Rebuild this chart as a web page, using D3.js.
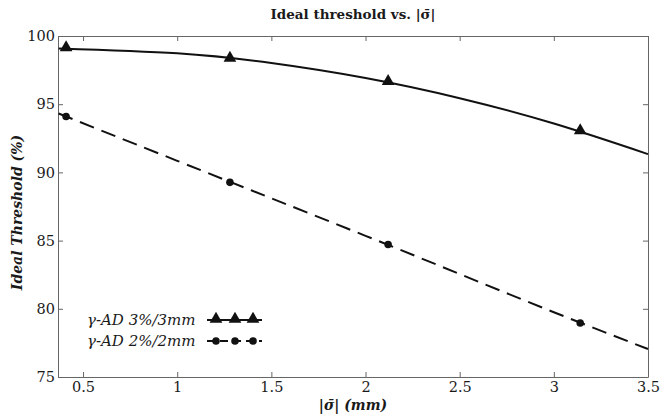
<!DOCTYPE html>
<html>
<head>
<meta charset="utf-8">
<script src="https://cdn.jsdelivr.net/npm/d3@7"></script>
<style>
  body { margin: 0; background: #fff; }
  svg text { fill: #1a1a1a; }
  .tick-label { font-family: "DejaVu Serif", serif; font-size: 14.5px; }
  .ttl { font-family: "DejaVu Serif", serif; font-weight: bold; font-size: 13.5px; }
  .axis-title { font-family: "DejaVu Serif", serif; font-weight: bold; font-style: italic; font-size: 14px; }
  .legend-label { font-family: "DejaVu Serif", serif; font-style: italic; font-size: 15px; }
</style>
</head>
<body>
<div id="chart"></div>
<script>
// measured points
const sigmaPoints = [0.41, 1.28, 2.12, 3.14];
const threshold3 = [99.08, 98.3, 96.6, 93.0];
const threshold2 = [94.1, 89.27, 84.72, 78.96];

// fitted curves
const fitX = [0.37, 1, 1.5, 2, 2.5, 3, 3.5];
const fit3 = [99.09, 98.73, 98.02, 96.92, 95.44, 93.58, 91.34];
const fit2 = [94.32, 90.85, 88.1, 85.35, 82.55, 79.75, 77.05];

const xTicks = [0.5, 1, 1.5, 2, 2.5, 3, 3.5];
const yTicks = [75, 80, 85, 90, 95, 100];
const legendNames = ["\u03B3-AD 3%/3mm", "\u03B3-AD 2%/2mm"];

function renderChart() {
    const width = 660;
    const height = 414;
    const margin = { top: 36, right: 12, bottom: 37, left: 58 };
    const tickLen = 5;

    const svg = d3.select("#chart")
        .html("")
        .append("svg")
        .attr("width", width)
        .attr("height", height);

    const x = d3.scaleLinear()
        .domain([0.367, 3.5])
        .range([margin.left, width - margin.right]);

    const y = d3.scaleLinear()
        .domain([75, 100])
        .range([height - margin.bottom, margin.top]);

    const axisColor = "#666";

    // box + inward ticks on all four sides
    const styleAxis = g => {
        g.select(".domain").attr("stroke", axisColor);
        g.selectAll(".tick line").attr("stroke", axisColor);
    };

    svg.append("g")
        .attr("transform", `translate(0,${y(75)})`)
        .call(d3.axisBottom(x).tickValues(xTicks).tickSizeInner(-tickLen).tickSizeOuter(0).tickPadding(5).tickFormat(d3.format("")))
        .call(styleAxis)
        .call(g => g.selectAll("text").attr("class", "tick-label").attr("fill", "#1a1a1a"));

    svg.append("g")
        .attr("transform", `translate(0,${y(100)})`)
        .call(d3.axisTop(x).tickValues(xTicks).tickSizeInner(-tickLen).tickSizeOuter(0).tickFormat(""))
        .call(styleAxis);

    svg.append("g")
        .attr("transform", `translate(${x.range()[0]},0)`)
        .call(d3.axisLeft(y).tickValues(yTicks).tickSizeInner(-tickLen).tickSizeOuter(0).tickPadding(3))
        .call(styleAxis)
        .call(g => g.selectAll("text").attr("class", "tick-label").attr("fill", "#1a1a1a"));

    svg.append("g")
        .attr("transform", `translate(${x.range()[1]},0)`)
        .call(d3.axisRight(y).tickValues(yTicks).tickSizeInner(-tickLen).tickSizeOuter(0).tickFormat(""))
        .call(styleAxis);

    const line = d3.line()
        .x(d => x(d[0]))
        .y(d => y(d[1]))
        .curve(d3.curveNatural);

    svg.append("path")
        .datum(fitX.map((v, i) => [v, fit3[i]]))
        .attr("fill", "none")
        .attr("stroke", "#111")
        .attr("stroke-width", 2)
        .attr("d", line);

    svg.append("path")
        .datum(fitX.map((v, i) => [v, fit2[i]]))
        .attr("fill", "none")
        .attr("stroke", "#111")
        .attr("stroke-width", 2)
        .attr("stroke-dasharray", "15,8")
        .attr("d", line);

    const tri = d3.symbol().type(d3.symbolTriangle).size(70);
    const dot = d3.symbol().type(d3.symbolCircle).size(45);

    svg.selectAll(".tri")
        .data(sigmaPoints.map((v, i) => [v, threshold3[i]]))
        .enter()
        .append("path")
        .attr("class", "tri")
        .attr("transform", d => `translate(${x(d[0])},${y(d[1]) - 1})`)
        .attr("d", tri)
        .attr("fill", "#111");

    svg.selectAll(".dot")
        .data(sigmaPoints.map((v, i) => [v, threshold2[i]]))
        .enter()
        .append("path")
        .attr("class", "dot")
        .attr("transform", d => `translate(${x(d[0])},${y(d[1])})`)
        .attr("d", dot)
        .attr("fill", "#111");

    // title and axis titles
    svg.append("text")
        .attr("class", "ttl")
        .attr("x", (x.range()[0] + x.range()[1]) / 2)
        .attr("y", 19)
        .attr("text-anchor", "middle")
        .text("Ideal threshold vs. |\u03C3\u0304|");

    svg.append("text")
        .attr("class", "axis-title")
        .attr("transform", `translate(22,${(y(75) + y(100)) / 2 + 6}) rotate(-90)`)
        .attr("text-anchor", "middle")
        .text("Ideal Threshold (%)");

    svg.append("text")
        .attr("class", "axis-title")
        .attr("x", (x.range()[0] + x.range()[1]) / 2)
        .attr("y", 410)
        .attr("text-anchor", "middle")
        .text("|\u03C3\u0304| (mm)");

    // legend
    const legend = svg.append("g").attr("transform", "translate(87,320)");
    const rowGap = 21;
    legendNames.forEach((name, i) => {
        const row = legend.append("g").attr("transform", `translate(0,${i * rowGap})`);
        row.append("text")
            .attr("class", "legend-label")
            .attr("x", 0)
            .attr("y", 5)
            .text(name);
        row.append("line")
            .attr("x1", 120).attr("x2", 175)
            .attr("y1", 0).attr("y2", 0)
            .attr("stroke", "#111")
            .attr("stroke-width", 2)
            .attr("stroke-dasharray", i === 0 ? null : "8,5");
        [129, 148, 166].forEach(px => {
            row.append("path")
                .attr("transform", `translate(${px},${i === 0 ? -1 : 0})`)
                .attr("d", i === 0 ? tri : dot)
                .attr("fill", "#111");
        });
    });
}

renderChart();
</script>
</body>
</html>
